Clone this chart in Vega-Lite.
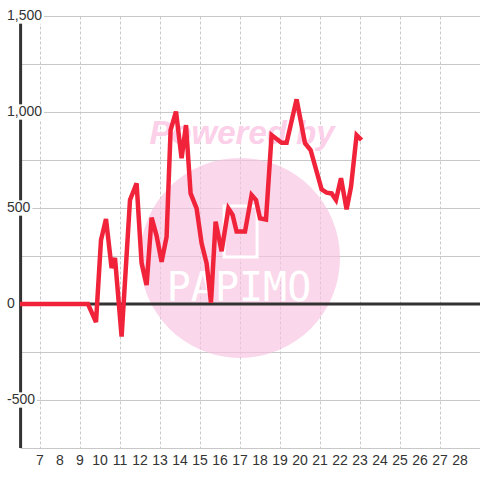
{
  "$schema": "https://vega.github.io/schema/vega-lite/v6.json",
  "width": 460,
  "height": 432,
  "autosize": {"type": "none"},
  "padding": {"left": 20, "top": 16, "right": 0, "bottom": 32},
  "background": "white",
  "config": {"view": {"stroke": null}},
  "datasets": {
    "series": [
      {"x": 6, "y": 0}, {"x": 9.4, "y": 0}, {"x": 9.8, "y": -94}, {"x": 10.05, "y": 333},
      {"x": 10.3, "y": 443}, {"x": 10.58, "y": 187}, {"x": 10.75, "y": 240}, {"x": 11.08, "y": -170},
      {"x": 11.5, "y": 542}, {"x": 11.83, "y": 628}, {"x": 12.08, "y": 213}, {"x": 12.33, "y": 99},
      {"x": 12.58, "y": 450}, {"x": 12.83, "y": 355}, {"x": 13.08, "y": 220}, {"x": 13.33, "y": 350},
      {"x": 13.53, "y": 906}, {"x": 13.8, "y": 1002}, {"x": 14.08, "y": 759}, {"x": 14.3, "y": 932},
      {"x": 14.53, "y": 576}, {"x": 14.83, "y": 498}, {"x": 15.08, "y": 316}, {"x": 15.33, "y": 212},
      {"x": 15.55, "y": 7}, {"x": 15.78, "y": 429}, {"x": 16.08, "y": 275}, {"x": 16.42, "y": 498},
      {"x": 16.63, "y": 464}, {"x": 16.83, "y": 377}, {"x": 17.25, "y": 377}, {"x": 17.58, "y": 568},
      {"x": 17.8, "y": 542}, {"x": 18.0, "y": 446}, {"x": 18.3, "y": 440}, {"x": 18.58, "y": 880},
      {"x": 19.08, "y": 840}, {"x": 19.33, "y": 840}, {"x": 19.83, "y": 1066}, {"x": 20.25, "y": 837},
      {"x": 20.53, "y": 802}, {"x": 21.08, "y": 597}, {"x": 21.33, "y": 580}, {"x": 21.58, "y": 576},
      {"x": 21.8, "y": 542}, {"x": 22.05, "y": 655}, {"x": 22.33, "y": 493}, {"x": 22.55, "y": 610},
      {"x": 22.83, "y": 880}, {"x": 23.08, "y": 854}
    ],
    "yticks": [
      {"v": 1500, "label": "1,500"}, {"v": 1000, "label": "1,000"}, {"v": 500, "label": "500"},
      {"v": 0, "label": "0"}, {"v": -500, "label": "-500"}
    ],
    "xticks": [
      {"d": 7}, {"d": 8}, {"d": 9}, {"d": 10}, {"d": 11}, {"d": 12}, {"d": 13}, {"d": 14},
      {"d": 15}, {"d": 16}, {"d": 17}, {"d": 18}, {"d": 19}, {"d": 20}, {"d": 21}, {"d": 22},
      {"d": 23}, {"d": 24}, {"d": 25}, {"d": 26}, {"d": 27}, {"d": 28}
    ],
    "one": [{"k": 1}]
  },
  "layer": [
    {
      "data": {"name": "series"},
      "mark": {"type": "line", "opacity": 0},
      "encoding": {
        "x": {"field": "x", "type": "quantitative", "title": null,
          "scale": {"domain": [6, 29], "nice": false, "zero": false},
          "axis": {"values": [7,8,9,10,11,12,13,14,15,16,17,18,19,20,21,22,23,24,25,26,27,28],
            "grid": true, "gridDash": [3, 2], "gridColor": "#c8c8c8", "gridWidth": 1,
            "domain": false, "ticks": false, "labels": false, "title": null}},
        "y": {"field": "y", "type": "quantitative", "title": null,
          "scale": {"domain": [-750, 1500], "nice": false, "zero": false},
          "axis": {"values": [-750,-500,-250,0,250,500,750,1000,1250,1500],
            "grid": true, "gridColor": "#c8c8c8", "gridWidth": 1,
            "labels": false, "ticks": false, "domain": false, "title": null}}
      }
    },
    {
      "data": {"name": "one"},
      "mark": {"type": "point", "shape": "circle", "filled": true, "size": 40000, "color": "#f7c1df", "opacity": 0.65},
      "encoding": {
        "x": {"datum": 17.0, "type": "quantitative", "title": null},
        "y": {"datum": 240, "type": "quantitative", "title": null}
      }
    },
    {
      "data": {"name": "one"},
      "mark": {"type": "text", "text": "Powered by", "font": "Liberation Sans", "fontSize": 33, "fontWeight": "bold", "fontStyle": "italic", "color": "#fbd0e8", "align": "center", "baseline": "middle"},
      "encoding": {
        "x": {"datum": 17.1, "type": "quantitative", "title": null},
        "y": {"datum": 885, "type": "quantitative", "title": null}
      }
    },
    {
      "data": {"name": "one"},
      "mark": {"type": "point", "filled": false, "stroke": "white", "strokeWidth": 3, "opacity": 1, "size": 2601,
        "shape": "M -0.647,-1 L 0.647,-1 L 0.647,1 L -0.647,1 Z"},
      "encoding": {
        "x": {"datum": 17.03, "type": "quantitative", "title": null},
        "y": {"datum": 378, "type": "quantitative", "title": null}
      }
    },
    {
      "data": {"name": "one"},
      "mark": {"type": "text", "text": "PAPIMO", "font": "DejaVu Sans Mono", "fontSize": 40, "color": "white", "align": "center", "baseline": "middle"},
      "encoding": {
        "x": {"datum": 16.95, "type": "quantitative", "title": null},
        "y": {"datum": 80, "type": "quantitative", "title": null}
      }
    },
    {
      "data": {"name": "one"},
      "mark": {"type": "rule", "color": "#333333", "strokeWidth": 3},
      "encoding": {
        "x": {"datum": 6.03, "type": "quantitative", "title": null}
      }
    },
    {
      "data": {"name": "yticks"},
      "transform": [
        {"filter": "datum.v != 0"},
        {"calculate": "indexof(datum.label, ',') >= 0 ? 1 : 0", "as": "nc"},
        {"calculate": "datum.v < 0 ? 1 : 0", "as": "nm"},
        {"calculate": "(length(datum.label) - datum.nc - datum.nm) * 7.79 + datum.nc * 3.89 + datum.nm * 4.66", "as": "w"},
        {"calculate": "6 + (7 + datum.w + 2 - 20) / 20", "as": "xe"},
        {"calculate": "5.9", "as": "xs"},
        {"calculate": "datum.v - 40", "as": "lo"},
        {"calculate": "datum.v + 40", "as": "hi"}
      ],
      "mark": {"type": "rect", "color": "white"},
      "encoding": {
        "x": {"field": "xs", "type": "quantitative", "title": null},
        "x2": {"field": "xe"},
        "y": {"field": "lo", "type": "quantitative", "title": null},
        "y2": {"field": "hi"}
      }
    },
    {
      "data": {"name": "yticks"},
      "mark": {"type": "text", "dx": -13, "align": "left", "baseline": "middle", "font": "Liberation Sans", "fontSize": 14, "color": "#333333"},
      "encoding": {
        "x": {"datum": 6, "type": "quantitative", "title": null},
        "y": {"field": "v", "type": "quantitative", "title": null},
        "text": {"field": "label"}
      }
    },
    {
      "data": {"name": "xticks"},
      "mark": {"type": "text", "dy": 13, "align": "center", "baseline": "middle", "font": "Liberation Sans", "fontSize": 14, "color": "#333333"},
      "encoding": {
        "x": {"field": "d", "type": "quantitative", "title": null},
        "y": {"datum": -750, "type": "quantitative", "title": null},
        "text": {"field": "d"}
      }
    },
    {
      "data": {"name": "one"},
      "mark": {"type": "rule", "color": "#333333", "strokeWidth": 3},
      "encoding": {
        "y": {"datum": 0, "type": "quantitative", "title": null}
      }
    },
    {
      "data": {"name": "series"},
      "mark": {"type": "line", "color": "#f0233a", "strokeWidth": 4.5},
      "encoding": {
        "x": {"field": "x", "type": "quantitative", "title": null},
        "y": {"field": "y", "type": "quantitative", "title": null}
      }
    }
  ]
}
